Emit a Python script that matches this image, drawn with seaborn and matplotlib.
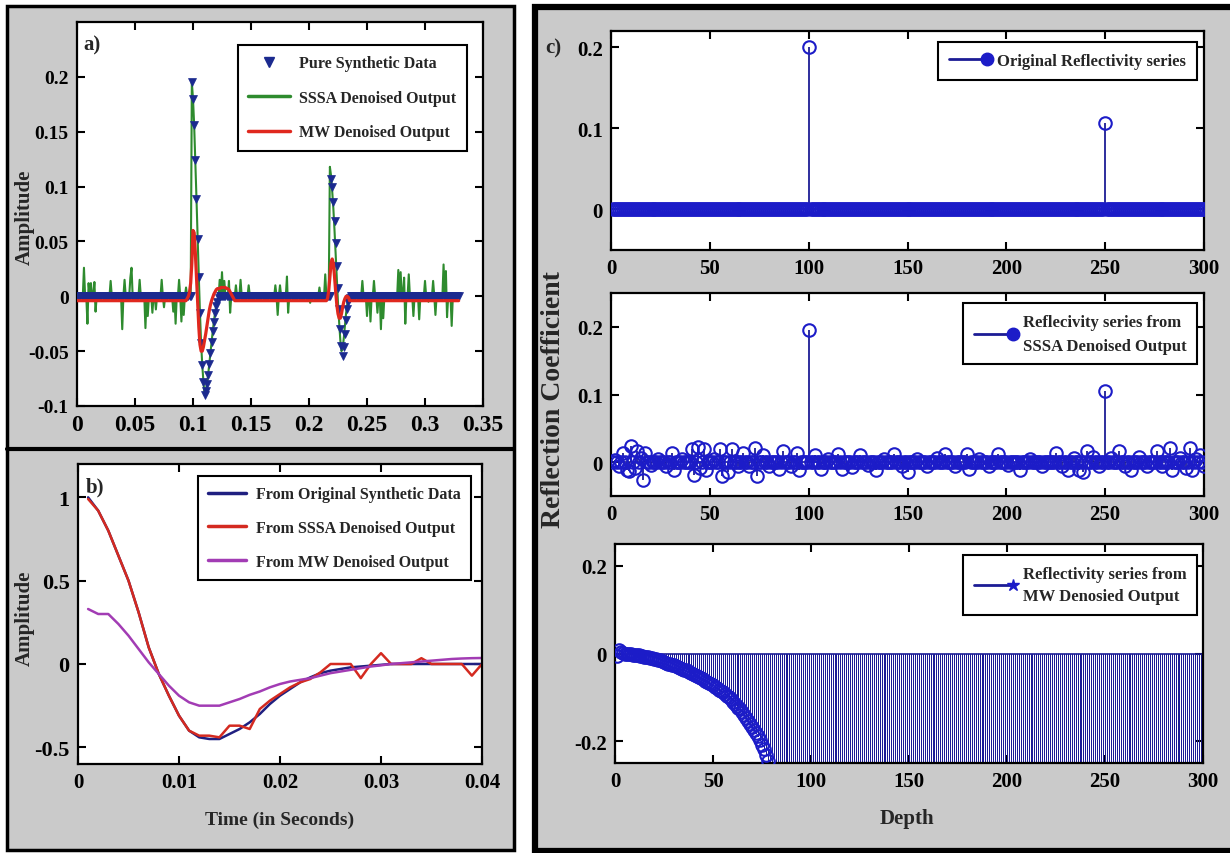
import numpy as np
import matplotlib
matplotlib.use("Agg")
import matplotlib.pyplot as plt
import seaborn as sns
from matplotlib.lines import Line2D
from matplotlib.patches import Rectangle
from matplotlib.legend_handler import HandlerLine2D

# ---------------- data ----------------
# panel a: traces sampled every 1 ms, 0 .. 0.329 s
n_samples = 330
dt = 0.001

pure_ev1_start = 99
pure_ev1 = [0.195, 0.180, 0.156, 0.124, 0.089, 0.052, 0.018, -0.015, -0.043, -0.063,
            -0.078, -0.090, -0.086, -0.080, -0.072, -0.062, -0.052, -0.042, -0.032,
            -0.023, -0.015, -0.009, -0.005, -0.002]
pure_ev2_start = 219
pure_ev2 = [0.107, 0.100, 0.086, 0.069, 0.049, 0.028, 0.008, -0.012, -0.030, -0.045,
            -0.054, -0.046, -0.034, -0.022, -0.012, -0.005, -0.002]

sssa_ev2_start = 218
sssa_ev2 = [0.118, 0.110, 0.096, 0.080, 0.060, 0.038, 0.016, -0.006, -0.024, -0.040,
            -0.050, -0.048, -0.038, -0.026, -0.015, -0.007, -0.002]
sssa_spike_idx = [6, 9, 10, 12, 15, 16, 29, 39, 41, 46, 47, 54, 59, 61, 65, 68, 73, 75,
                  83, 85, 88, 90, 92, 94, 123, 125, 127, 131, 132, 137, 141, 148, 171,
                  173, 175, 181, 182, 201, 209, 214, 246, 250, 253, 256, 259, 262, 264,
                  277, 279, 282, 283, 286, 290, 295, 300, 303, 307, 309, 316, 318, 319, 323]
sssa_spike_val = [0.026, -0.025, 0.012, 0.012, 0.013, -0.014, 0.014, -0.030, 0.015, 0.017,
                  0.026, 0.015, -0.029, -0.018, -0.015, -0.012, 0.015, -0.010, -0.014,
                  -0.025, 0.015, -0.023, -0.017, 0.008, 0.015, 0.022, 0.014, 0.014, -0.015,
                  0.010, 0.015, 0.010, 0.010, -0.017, 0.010, 0.018, -0.015, -0.006, 0.008,
                  0.020, 0.014, -0.018, -0.023, 0.014, -0.015, -0.030, -0.020, 0.024, 0.022,
                  0.017, -0.025, 0.020, -0.018, -0.021, 0.014, -0.005, 0.014, -0.017, 0.029,
                  0.023, -0.019, -0.027]

mw_baseline = -0.004
mw_ev1_start = 95
mw_ev1 = [-0.002, 0.000, 0.004, 0.012, 0.030, 0.060, 0.058, 0.040, 0.018, -0.005, -0.028,
          -0.044, -0.050, -0.050, -0.046, -0.040, -0.034, -0.027, -0.020, -0.013, -0.008,
          -0.004, -0.001, 0.002, 0.004, 0.006, 0.007, 0.007, 0.007, 0.008, 0.008, 0.008,
          0.008, 0.008, 0.007, 0.007, 0.006, 0.004, 0.002, 0.000, -0.002]
mw_ev2_start = 216
mw_ev2 = [-0.002, 0.005, 0.018, 0.030, 0.034, 0.030, 0.018, 0.004, -0.008, -0.016,
          -0.020, -0.020, -0.016, -0.010, -0.005, -0.002, 0.000, 0.000, -0.001]

# panel b: wavelets, 1 .. 40 ms
wav_time = np.arange(1, 41) * 0.001
wav_orig = [1.00, 0.92, 0.80, 0.65, 0.50, 0.31, 0.10, -0.06, -0.19, -0.31, -0.40, -0.44,
            -0.45, -0.45, -0.42, -0.39, -0.35, -0.30, -0.24, -0.19, -0.15, -0.11, -0.08,
            -0.055, -0.04, -0.03, -0.02, -0.015, -0.01, -0.005, 0, 0, 0, 0, 0, 0, 0, 0, 0, 0]
wav_sssa = [0.99, 0.92, 0.80, 0.65, 0.50, 0.31, 0.10, -0.06, -0.19, -0.31, -0.40, -0.43,
            -0.43, -0.44, -0.37, -0.37, -0.39, -0.27, -0.22, -0.18, -0.14, -0.11, -0.09,
            -0.05, 0.0, 0.0, 0.0, -0.085, 0.0, 0.065, 0.0, 0.0, 0.0, 0.035, 0.0, 0.0, 0.0,
            0.0, -0.07, 0.0]
wav_mw = [0.33, 0.30, 0.30, 0.24, 0.17, 0.09, 0.01, -0.06, -0.13, -0.19, -0.23, -0.25,
          -0.25, -0.25, -0.23, -0.21, -0.185, -0.165, -0.14, -0.12, -0.105, -0.095, -0.085,
          -0.07, -0.055, -0.045, -0.035, -0.025, -0.015, -0.008, 0.0, 0.005, 0.01, 0.015,
          0.02, 0.025, 0.03, 0.033, 0.035, 0.036]

# panel c: reflectivity series over depth 1 .. 300
depth = np.arange(1, 301)
orig_refl_idx = [100, 250]
orig_refl_val = [0.2, 0.107]
sssa_refl_idx = [2, 4, 6, 8, 9, 10, 12, 13, 15, 16, 17, 20, 24, 28, 31, 32, 36, 41, 42, 44,
                 45, 47, 48, 52, 55, 56, 59, 61, 64, 67, 70, 73, 74, 77, 80, 85, 87, 91, 94,
                 95, 100, 103, 106, 110, 115, 117, 122, 126, 130, 134, 138, 143, 147, 150,
                 155, 160, 165, 169, 174, 180, 181, 186, 191, 196, 201, 207, 212, 218, 225,
                 228, 231, 234, 237, 239, 241, 244, 247, 250, 253, 257, 260, 263, 267, 271,
                 276, 279, 283, 284, 288, 291, 293, 294, 296, 298, 300]
sssa_refl_val = [0.003, -0.006, 0.014, -0.012, -0.013, 0.024, -0.008, 0.017, 0.006, -0.026,
                 0.014, -0.004, 0.005, -0.006, 0.014, -0.012, 0.004, 0.019, -0.019, 0.022,
                 -0.008, 0.019, -0.012, 0.005, 0.019, -0.021, -0.014, 0.019, -0.006, 0.014,
                 -0.005, 0.021, -0.021, 0.010, -0.006, -0.010, 0.017, -0.005, 0.014, -0.012,
                 0.195, 0.010, -0.010, 0.005, 0.012, -0.010, -0.007, 0.010, -0.004, -0.012,
                 0.005, 0.012, -0.006, -0.014, 0.004, -0.005, 0.006, 0.012, -0.005, 0.012,
                 -0.010, 0.004, -0.006, 0.012, -0.004, -0.012, 0.005, -0.006, 0.014, -0.005,
                 -0.012, 0.006, -0.012, -0.014, 0.017, 0.008, -0.006, 0.105, 0.006, 0.017,
                 -0.006, -0.012, 0.008, -0.005, 0.017, -0.006, 0.021, -0.012, 0.006, -0.008,
                 0.021, -0.012, 0.004, 0.010, -0.005]
# MW result for depth 1..78; deeper values fall below the -0.25 axis floor
mw_refl_head = [-0.005, 0.008, 0.004, 0.002, 0.000, -0.001, -0.002, -0.002, -0.003, -0.003,
                -0.004, -0.004, -0.005, -0.006, -0.007, -0.008, -0.009, -0.010, -0.011, -0.012,
                -0.013, -0.014, -0.015, -0.017, -0.019, -0.021, -0.023, -0.025, -0.026, -0.027,
                -0.029, -0.031, -0.033, -0.035, -0.037, -0.038, -0.040, -0.042, -0.045, -0.047,
                -0.050, -0.052, -0.054, -0.057, -0.059, -0.062, -0.065, -0.068, -0.070, -0.073,
                -0.076, -0.079, -0.083, -0.086, -0.089, -0.093, -0.096, -0.100, -0.105, -0.110,
                -0.115, -0.120, -0.124, -0.127, -0.133, -0.140, -0.147, -0.154, -0.161, -0.168,
                -0.175, -0.181, -0.188, -0.198, -0.208, -0.219, -0.232, -0.246]
mw_refl_deep = -0.4

# ticks
a_xticks = [0, 0.05, 0.1, 0.15, 0.2, 0.25, 0.3, 0.35]
a_xticklabels = ['0', '0.05', '0.1', '0.15', '0.2', '0.25', '0.3', '0.35']
a_yticks = [-0.1, -0.05, 0, 0.05, 0.1, 0.15, 0.2]
a_yticklabels = ['-0.1', '-0.05', '0', '0.05', '0.1', '0.15', '0.2']
b_xticks = [0, 0.01, 0.02, 0.03, 0.04]
b_xticklabels = ['0', '0.01', '0.02', '0.03', '0.04']
b_yticks = [-0.5, 0, 0.5, 1]
b_yticklabels = ['-0.5', '0', '0.5', '1']
c_xticks = [0, 50, 100, 150, 200, 250, 300]
c_xticklabels = ['0', '50', '100', '150', '200', '250', '300']
c_top_yticks = [0, 0.1, 0.2]
c_top_yticklabels = ['0', '0.1', '0.2']
c_bot_yticks = [-0.2, 0, 0.2]
c_bot_yticklabels = ['-0.2', '0', '0.2']

# ---------------- build series ----------------
t = np.arange(n_samples) * dt
pure = np.zeros(n_samples)
pure[pure_ev1_start:pure_ev1_start + len(pure_ev1)] = pure_ev1
pure[pure_ev2_start:pure_ev2_start + len(pure_ev2)] = pure_ev2

sssa = np.zeros(n_samples)
sssa[pure_ev1_start:pure_ev1_start + len(pure_ev1)] = pure_ev1
sssa[sssa_ev2_start:sssa_ev2_start + len(sssa_ev2)] = sssa_ev2
sssa[sssa_spike_idx] = sssa_spike_val

mw = np.full(n_samples, mw_baseline)
mw[mw_ev1_start:mw_ev1_start + len(mw_ev1)] = mw_ev1
mw[mw_ev2_start:mw_ev2_start + len(mw_ev2)] = mw_ev2

orig_refl = np.zeros(len(depth))
orig_refl[np.array(orig_refl_idx) - 1] = orig_refl_val
sssa_refl = np.zeros(len(depth))
sssa_refl[np.array(sssa_refl_idx) - 1] = sssa_refl_val
mw_refl = np.full(len(depth), mw_refl_deep)
mw_refl[:len(mw_refl_head)] = mw_refl_head

# ---------------- style ----------------
sns.set_style("ticks")
plt.rcParams['font.family'] = ['Liberation Serif', 'DejaVu Serif']
plt.rcParams['font.weight'] = 'bold'
plt.rcParams['axes.unicode_minus'] = False

W, H = 1230, 854
GREY = '#cacaca'
NAVY = '#1b2a8f'
GREEN = '#2e8b2e'
RED = '#e0281e'
B_NAVY = '#1f1f80'
B_RED = '#d42a20'
PURPLE = '#a23cb4'
STEM = '#1c1c95'
CIRC = '#1c1cc8'


def fig_rect(left, top, right, bottom):
    return [left / W, 1 - bottom / H, (right - left) / W, (bottom - top) / H]


def fig_text(x, y, s, size, rotation=0):
    fig.text(x / W, 1 - y / H, s, ha='center', va='center', rotation=rotation,
             fontsize=size, fontweight='bold')


def style_axes(ax, xsize, ysize):
    ax.set_facecolor('white')
    for sp in ax.spines.values():
        sp.set_linewidth(1.6)
        sp.set_color('black')
    ax.tick_params(direction='in', top=True, right=True, length=6, width=1.5,
                   pad=6, colors='black')
    ax.tick_params(axis='x', labelsize=xsize)
    ax.tick_params(axis='y', labelsize=ysize)


class EndMarkerHandler(HandlerLine2D):
    # stem-style legend entry: marker at the right end of the line
    def create_artists(self, legend, orig_handle, xdescent, ydescent, width, height, fontsize, trans):
        arts = super().create_artists(legend, orig_handle, xdescent, ydescent, width, height, fontsize, trans)
        arts[0].set_markevery([2])
        return arts


def add_legend(ax, handles, labels, right, top, size, hlen, lspace=0.85, bpad=0.5,
               stem=False, linespacing=None):
    kw = {}
    if stem:
        kw['handler_map'] = {h: EndMarkerHandler(numpoints=1) for h in handles}
    leg = ax.legend(handles, labels, loc='upper right', bbox_to_anchor=(right / W, 1 - top / H),
                    bbox_transform=fig.transFigure, borderaxespad=0, fancybox=False,
                    framealpha=1, edgecolor='black', handlelength=hlen, handletextpad=0.6,
                    labelspacing=lspace, borderpad=bpad, numpoints=1,
                    prop={'family': 'Liberation Serif', 'weight': 'bold', 'size': size}, **kw)
    leg.get_frame().set_linewidth(1.5)
    if linespacing:
        for txt in leg.get_texts():
            txt.set_linespacing(linespacing)
    return leg


fig = plt.figure(figsize=(W / 100, H / 100), dpi=100, facecolor='white')

# panel frames
fig.add_artist(Rectangle((7 / W, 1 - 850.5 / H), 506.5 / W, 844 / H, transform=fig.transFigure,
                         facecolor=GREY, edgecolor='black', linewidth=2.5, zorder=-2))
fig.add_artist(Line2D([7 / W, 513.5 / W], [1 - 450 / H, 1 - 450 / H], transform=fig.transFigure,
                      color='black', linewidth=3, zorder=-1))
fig.add_artist(Rectangle((535 / W, 1 - 852 / H), 720 / W, 844 / H, transform=fig.transFigure,
                         facecolor=GREY, edgecolor='black', linewidth=4.5, zorder=-2))

# ---- panel a ----
ax_a = fig.add_axes(fig_rect(77, 23, 483, 407))
sns.lineplot(x=t, y=sssa, color=GREEN, lw=1.5, estimator=None, sort=False, ax=ax_a, zorder=2)
sns.lineplot(x=t, y=pure, color=NAVY, marker='v', linestyle='none', markersize=6,
             markerfacecolor=NAVY, markeredgecolor=NAVY, markeredgewidth=0.5,
             estimator=None, sort=False, ax=ax_a, zorder=3)
sns.lineplot(x=t, y=mw, color=RED, lw=2.3, estimator=None, sort=False, ax=ax_a, zorder=4)
ax_a.set_xlim(0, 0.35)
ax_a.set_ylim(-0.1, 0.25)
ax_a.set_xticks(a_xticks, a_xticklabels)
ax_a.set_yticks(a_yticks, a_yticklabels)
style_axes(ax_a, 17, 14)
add_legend(ax_a,
           [Line2D([], [], color=NAVY, marker='v', linestyle='none', markersize=7),
            Line2D([], [], color=GREEN, lw=2.5),
            Line2D([], [], color=RED, lw=2.5)],
           ['Pure Synthetic Data', 'SSSA Denoised Output', 'MW Denoised Output'],
           467, 46, 11.5, 2.6, lspace=1.15, bpad=0.65)

# ---- panel b ----
ax_b = fig.add_axes(fig_rect(78, 465, 482, 765))
sns.lineplot(x=wav_time, y=wav_orig, color=B_NAVY, lw=1.8, estimator=None, ax=ax_b)
sns.lineplot(x=wav_time, y=wav_sssa, color=B_RED, lw=1.8, estimator=None, ax=ax_b)
sns.lineplot(x=wav_time, y=wav_mw, color=PURPLE, lw=1.8, estimator=None, ax=ax_b)
ax_b.set_xlim(0, 0.04)
ax_b.set_ylim(-0.6, 1.2)
ax_b.set_xticks(b_xticks, b_xticklabels)
ax_b.set_yticks(b_yticks, b_yticklabels)
style_axes(ax_b, 15, 16)
add_legend(ax_b,
           [Line2D([], [], color=B_NAVY, lw=2.5),
            Line2D([], [], color=B_RED, lw=2.5),
            Line2D([], [], color=PURPLE, lw=2.5)],
           ['From Original Synthetic Data', 'From SSSA Denoised Output', 'From MW Denoised Output'],
           471, 477, 11.5, 2.4, lspace=1.1, bpad=0.65)

# ---- panel c (three stem plots) ----
c_specs = [
    (fig_rect(611, 32, 1204, 251), orig_refl, (-0.05, 0.22), c_top_yticks, c_top_yticklabels,
     'o', 'Original Reflectivity series', 43, None, 1.3, True),
    (fig_rect(611, 294, 1204, 497), sssa_refl, (-0.05, 0.25), c_top_yticks, c_top_yticklabels,
     'o', 'Reflecivity series from\nSSSA Denoised Output', 304, 1.65, 1.3, True),
    (fig_rect(615, 545, 1203, 764), mw_refl, (-0.25, 0.25), c_bot_yticks, c_bot_yticklabels,
     '*', 'Reflectivity series from\nMW Denosied Output', 556, 1.55, 0.45, False),
]
c_axes = []
for rect, vals, ylim, yt, ytl, leg_marker, leg_label, leg_top, lsp, stem_lw, stem_aa in c_specs:
    ax = fig.add_axes(rect)
    ax.vlines(depth, 0, vals, colors=STEM, linewidth=stem_lw, antialiased=stem_aa, zorder=2)
    ax.axhline(0, color=STEM, linewidth=1.2, zorder=2)
    sns.lineplot(x=depth, y=vals, color=CIRC, marker='o', linestyle='none', markersize=9,
                 markerfacecolor='none', markeredgecolor=CIRC, markeredgewidth=1.5,
                 estimator=None, sort=False, ax=ax, zorder=3)
    ax.set_xlim(0, 300)
    ax.set_ylim(*ylim)
    ax.set_xticks(c_xticks, c_xticklabels)
    ax.set_yticks(yt, ytl)
    style_axes(ax, 15, 15)
    handle = Line2D([], [], color=STEM, lw=2, marker=leg_marker, markersize=9,
                    markerfacecolor=CIRC, markeredgecolor=CIRC)
    add_legend(ax, [handle], [leg_label], 1197, leg_top, 12, 2.3, bpad=0.65,
               stem=True, linespacing=lsp)
    c_axes.append(ax)

# labels
fig_text(92, 45, 'a)', 15)
fig_text(95, 487, 'b)', 15)
fig_text(553, 48, 'c)', 15)
fig_text(25, 217, 'Amplitude', 15, rotation=90)
fig_text(25, 618, 'Amplitude', 15, rotation=90)
fig_text(280, 820, 'Time (in Seconds)', 14)
fig_text(553, 400, 'Reflection Coefficient', 20, rotation=90)
fig_text(907, 819, 'Depth', 15)

fig.savefig('out.png', dpi=100, facecolor='white')
